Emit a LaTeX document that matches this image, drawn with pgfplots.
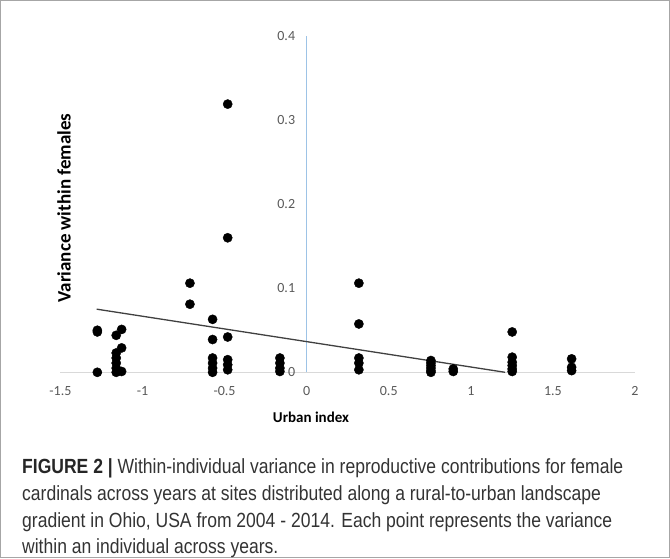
\documentclass[border=0pt]{standalone}
\usepackage{pgfplots}
\pgfplotsset{compat=1.18}
\usepackage{fontspec}
\setmainfont{Carlito}
\newfontfamily\capfont[FakeStretch=0.855]{Liberation Sans}
\definecolor{ticktxt}{HTML}{595959}
\definecolor{yaxblue}{HTML}{9DC3E6}
\definecolor{xaxgray}{HTML}{D9D9D9}
\definecolor{trend}{HTML}{404040}
\definecolor{capcol}{HTML}{333333}
\begin{document}
\begin{tikzpicture}
\useasboundingbox (0,0) rectangle (670pt,558pt);
\draw[color=gray!70, line width=0.8pt] (0.5pt,0.5pt) rectangle (669.5pt,557.5pt);
\begin{axis}[
  at={(60.4pt,185.7pt)}, anchor=south west,
  scale only axis, width=574.6pt, height=336.3pt,
  xmin=-1.5, xmax=2, ymin=0, ymax=0.4,
  axis x line=bottom, axis y line=middle,
  hide obscured x ticks=false, hide obscured y ticks=false,
  x axis line style={-, color=xaxgray, line width=0.8pt},
  y axis line style={-, color=yaxblue, line width=0.8pt},
  xtick={-1.5,-1,-0.5,0,0.5,1,1.5,2},
  ytick={0,0.1,0.2,0.3,0.4},
  major tick length=0pt,
  tick style={draw=none},
  /pgf/number format/assume math mode=true,
  tick label style={font=\fontsize{14}{14}\selectfont, color=ticktxt},
  xticklabel style={yshift=-11pt},
  yticklabel style={xshift=-8pt},
  clip=false,
]
\addplot[only marks, mark=*, mark size=4.6pt, color=black] coordinates {
(-1.275,0.050) (-1.275,0.048) (-1.275,0.0)
(-1.16,0.044) (-1.16,0.023) (-1.16,0.017) (-1.16,0.011) (-1.16,0.005) (-1.16,0.0)
(-1.127,0.051) (-1.127,0.029) (-1.127,0.001)
(-0.711,0.106) (-0.711,0.081)
(-0.573,0.063) (-0.573,0.039) (-0.573,0.017) (-0.573,0.011) (-0.573,0.005) (-0.573,0.0)
(-0.481,0.319) (-0.481,0.160) (-0.481,0.042) (-0.481,0.015) (-0.481,0.009) (-0.481,0.003)
(-0.163,0.017) (-0.163,0.011) (-0.163,0.005) (-0.163,0.001)
(0.318,0.106) (0.318,0.0575) (0.318,0.017) (0.318,0.011) (0.318,0.003)
(0.757,0.014) (0.757,0.011) (0.757,0.008) (0.757,0.005) (0.757,0.002) (0.757,0.0)
(0.893,0.004) (0.893,0.001)
(1.252,0.048) (1.252,0.018) (1.252,0.012) (1.252,0.008) (1.252,0.004) (1.252,0.001)
(1.614,0.016) (1.614,0.006) (1.614,0.002)
};
\addplot[color=trend, line width=1.3pt] coordinates {(-1.279,0.0751) (1.209,0.0)};
\end{axis}
\node[font=\bfseries\fontsize{15}{15}\selectfont, anchor=center] at (311pt,141pt) {Urban index};
\node[font=\bfseries\fontsize{19}{19}\selectfont, anchor=center, rotate=90] at (64pt,350pt) {Variance within females};
\begin{scope}[every node/.style={anchor=base west, inner sep=0pt, font=\capfont\fontsize{20.5}{26}\selectfont, text=capcol}]
\node at (22pt,85pt) {\textbf{\color{black!85}FIGURE 2 |} Within-individual variance in reproductive contributions for female};
\node at (22pt,58pt) {cardinals across years at sites distributed along a rural-to-urban landscape};
\node at (22pt,31pt) {gradient in Ohio, USA from 2004 - 2014. Each point represents the variance};
\node at (22pt,5pt) {within an individual across years.};
\end{scope}
\end{tikzpicture}
\end{document}
